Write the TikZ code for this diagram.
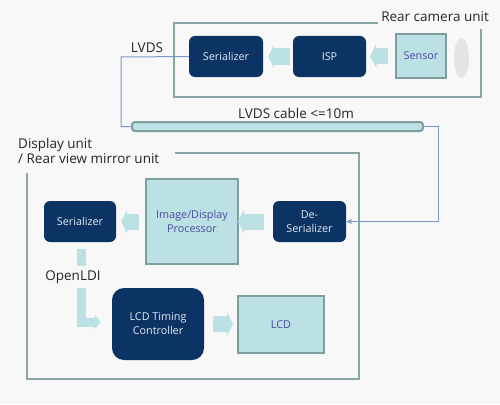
\documentclass[tikz,border=0pt]{standalone}
\usepackage{fontspec}
\setmainfont{Open Sans}
\usetikzlibrary{shapes.geometric,arrows.meta}
\definecolor{navy}{HTML}{0B3364}
\definecolor{pale}{HTML}{BBE1E4}
\definecolor{edgegray}{HTML}{7F9E9E}
\definecolor{framegray}{HTML}{8BA5A6}
\definecolor{wirecol}{HTML}{7A98C8}
\definecolor{paletext}{HTML}{4A4A9E}
\definecolor{darktext}{HTML}{E2EAF2}
\definecolor{bg}{HTML}{F8F8F8}
\definecolor{lens}{HTML}{E4E4E4}
\tikzstyle{dark} = [rectangle, rounded corners=6pt, fill=navy, text=darktext, inner sep=0pt, align=center, font=\fontsize{10.8}{14}\selectfont]
\tikzstyle{light} = [rectangle, draw=edgegray, line width=2pt, fill=pale, text=paletext, inner sep=0pt, align=center, font=\fontsize{10.8}{14}\selectfont]
\tikzstyle{fat} = [pale, line width=16pt, -{Triangle[length=6pt,width=24pt]}]
\tikzstyle{thinfat} = [pale, line width=9pt, -{Triangle[length=6pt,width=14pt]}]
\tikzstyle{wireline} = [wirecol, line width=1pt]
\tikzstyle{unit} = [framegray, line width=2pt]
\tikzstyle{unitlabel} = [inner sep=0pt, text=black!85, font=\fontsize{13.5}{15.5}\selectfont]

\begin{document}
\begin{tikzpicture}[x=1pt,y=-1pt]
        \useasboundingbox[fill=bg] (0,0) rectangle (500,404);
        % rear camera unit
        \draw [unit] (378,23) -- (174,23) -- (174,97) -- (481,97) -- (481,29);
        \node(camlabel) [unitlabel, anchor=east] at (489,17) {Rear camera unit};
        \node(ser1) [dark, minimum width=74pt, minimum height=41pt] at (226,56.5) {Serializer};
        \node(isp) [dark, minimum width=73pt, minimum height=41pt] at (329.5,56.5) {ISP};
        \node(sensor) [light, minimum width=50pt, minimum height=44pt] at (421,56) {Sensor};
        \node(lens) [ellipse, fill=lens, minimum width=15pt, minimum height=40pt, inner sep=0pt] at (461.5,58) {};
        \draw [fat] ([xshift=-7pt]sensor.west)--([xshift=4pt]isp.east);
        \draw [fat] ([xshift=-3pt]isp.west)--([xshift=5pt]ser1.east);
        % cable
        \node(lvds) [unitlabel] at (147,48) {LVDS};
        \node(cable) [rectangle, rounded corners=3pt, draw=edgegray, line width=2pt, fill=pale, minimum width=291pt, minimum height=9pt, inner sep=0pt] at (277.5,126.5) {};
        \node(cablelabel) [unitlabel] at (296,113) {LVDS cable <=10m};
        \coordinate(bendA) at (121,57);
        \coordinate(bendB) at (438,126.5);
        \draw [wireline] (ser1.west)--(bendA)|-(cable.west);
        % display unit
        \draw [unit] (175,153) -- (359,153) -- (359,379) -- (27,379) -- (27,173);
        \node(displabel) [unitlabel, anchor=north west, align=left] at (18,138) {Display unit\\/ Rear view mirror unit};
        \node(ser2) [dark, minimum width=72pt, minimum height=41pt] at (80,221.5) {Serializer};
        \node(proc) [light, minimum width=92pt, minimum height=85pt] at (192,221.5) {Image/Display\\Processor};
        \node(deser) [dark, minimum width=73pt, minimum height=41pt] at (309.5,221.5) {De-\\Serializer};
        \node(tcon) [dark, rounded corners=12pt, minimum width=92pt, minimum height=72pt] at (158,324) {LCD Timing\\Controller};
        \node(lcd) [light, minimum width=86pt, minimum height=57pt] at (281,324.5) {LCD};
        \draw [wireline, -{Stealth[length=6pt,width=5pt]}] (cable.east)--(bendB)|-(deser.east);
        \draw [fat] ([xshift=-9pt]deser.west)--([xshift=-1pt]proc.east);
        \draw [fat] ([xshift=-6pt]proc.west)--([xshift=5pt]ser2.east);
        \draw [fat] ([xshift=9pt]tcon.east)--([xshift=-4pt]lcd.west);
        \draw [thinfat] ([xshift=1.5pt,yshift=-7pt]ser2.south) |- ([xshift=-11pt]tcon.west|-0,322);
        \node(openldi) [unitlabel, fill=bg, minimum height=22pt] at (73,277) {OpenLDI};
    \end{tikzpicture}
\end{document}
